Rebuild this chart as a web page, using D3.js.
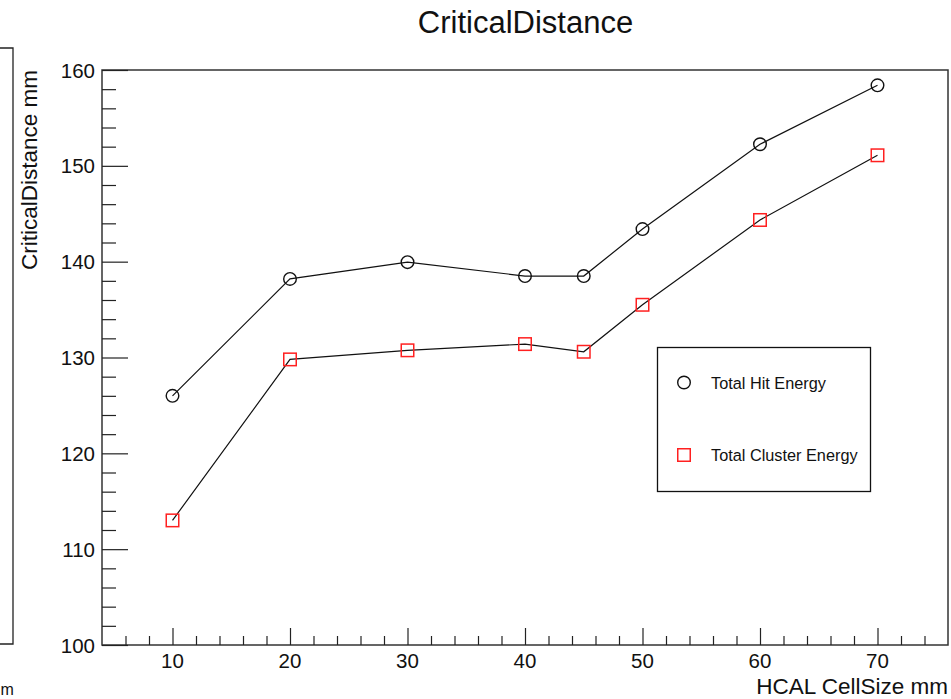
<!DOCTYPE html>
<html>
<head>
<meta charset="utf-8">
<script src="https://cdn.jsdelivr.net/npm/d3@7"></script>
<style>
  html, body { margin: 0; padding: 0; background: #fff; }
  svg { display: block; font-family: "Liberation Sans", Arial, Helvetica, sans-serif; }
</style>
</head>
<body>
<svg id="chart" width="951" height="699"></svg>
<script>
// HCAL cell size (mm) and the critical distance (mm) for each energy definition
const cellSize = [10, 20, 30, 40, 45, 50, 60, 70];
const hitEnergy = [126.0, 138.2, 139.95, 138.5, 138.5, 143.4, 152.25, 158.4];
const clusterEnergy = [113.0, 129.8, 130.75, 131.4, 130.6, 135.5, 144.35, 151.1];

const xMajorTicks = [10, 20, 30, 40, 50, 60, 70];
const yMajorTicks = [100, 110, 120, 130, 140, 150, 160];
const seriesNames = ["Total Hit Energy", "Total Cluster Energy"];

const svg = d3.select("#chart");
const frame = { left: 102, top: 70, right: 948, bottom: 645 };

const x = d3.scaleLinear().domain([4, 76]).range([frame.left, frame.right]);
const y = d3.scaleLinear().domain([100, 160]).range([frame.bottom, frame.top]);

// neighbouring pad edge on the far left
const sidePad = svg.append("g").attr("stroke", "#222").attr("fill", "none").attr("stroke-width", 1.3);
sidePad.append("path").attr("d", "M0,48H13V644H0");
svg.append("text").attr("x", 0.5).attr("y", 695).attr("text-anchor", "start")
  .attr("font-size", 16).attr("fill", "#111").text("m");

// title
svg.append("text").attr("x", 525.5).attr("y", 33).attr("text-anchor", "middle")
  .attr("font-size", 31).attr("fill", "#111").text("CriticalDistance");

// frame
svg.append("rect")
  .attr("x", frame.left).attr("y", frame.top)
  .attr("width", frame.right - frame.left).attr("height", frame.bottom - frame.top)
  .attr("fill", "none").attr("stroke", "#333").attr("stroke-width", 1.5);

// x axis: ticks pointing into the frame
const xAxisMajor = d3.axisTop(x).tickValues(xMajorTicks).tickSize(17).tickFormat("");
const xAxisMinor = d3.axisTop(x).tickValues(d3.range(6, 76, 2).filter(v => v % 10 !== 0)).tickSize(9).tickFormat("");
[xAxisMajor, xAxisMinor].forEach(ax => {
  const g = svg.append("g").attr("transform", `translate(0,${frame.bottom})`).call(ax);
  g.select(".domain").remove();
  g.selectAll("line").attr("stroke", "#222").attr("stroke-width", 1.2);
});
svg.append("g").selectAll("text").data(xMajorTicks).join("text")
  .attr("x", d => x(d)).attr("y", 668).attr("text-anchor", "middle")
  .attr("font-size", 20.5).attr("fill", "#111").text(d => d);

// y axis: ticks pointing into the frame
const yAxisMajor = d3.axisRight(y).tickValues(yMajorTicks).tickSize(26).tickFormat("");
const yAxisMinor = d3.axisRight(y).tickValues(d3.range(102, 160, 2).filter(v => v % 10 !== 0)).tickSize(14).tickFormat("");
[yAxisMajor, yAxisMinor].forEach(ax => {
  const g = svg.append("g").attr("transform", `translate(${frame.left},0)`).call(ax);
  g.select(".domain").remove();
  g.selectAll("line").attr("stroke", "#222").attr("stroke-width", 1.2);
});
svg.append("g").selectAll("text").data(yMajorTicks).join("text")
  .attr("x", 95).attr("y", d => y(d) + 7.5).attr("text-anchor", "end")
  .attr("font-size", 20.5).attr("fill", "#111").text(d => d);

// axis titles
svg.append("text").attr("x", 948).attr("y", 694).attr("text-anchor", "end")
  .attr("font-size", 22.5).attr("fill", "#111").text("HCAL CellSize mm");
svg.append("text").attr("transform", "translate(37,70) rotate(-90)").attr("text-anchor", "end")
  .attr("font-size", 22.5).attr("fill", "#111").text("CriticalDistance mm");

// series
const line = d3.line().x(d => x(d[0])).y(d => y(d[1]));
const hitPts = cellSize.map((c, i) => [c, hitEnergy[i]]);
const clusterPts = cellSize.map((c, i) => [c, clusterEnergy[i]]);

svg.append("path").datum(hitPts).attr("d", line)
  .attr("fill", "none").attr("stroke", "#111").attr("stroke-width", 1.2);
svg.append("path").datum(clusterPts).attr("d", line)
  .attr("fill", "none").attr("stroke", "#111").attr("stroke-width", 1.2);

svg.append("g").selectAll("circle").data(hitPts).join("circle")
  .attr("cx", d => x(d[0])).attr("cy", d => y(d[1])).attr("r", 6.3)
  .attr("fill", "none").attr("stroke", "#111").attr("stroke-width", 1.4);

const sq = 12.5;
svg.append("g").selectAll("rect").data(clusterPts).join("rect")
  .attr("x", d => x(d[0]) - sq / 2).attr("y", d => y(d[1]) - sq / 2)
  .attr("width", sq).attr("height", sq)
  .attr("fill", "none").attr("stroke", "#ff2020").attr("stroke-width", 1.5);

// legend
const legend = svg.append("g");
legend.append("rect").attr("x", 657.5).attr("y", 347.5).attr("width", 213).attr("height", 144)
  .attr("fill", "#fff").attr("stroke", "#111").attr("stroke-width", 1.3);
legend.append("circle").attr("cx", 684).attr("cy", 382.5).attr("r", 6.3)
  .attr("fill", "none").attr("stroke", "#111").attr("stroke-width", 1.4);
legend.append("rect").attr("x", 684 - sq / 2).attr("y", 455 - sq / 2).attr("width", sq).attr("height", sq)
  .attr("fill", "none").attr("stroke", "#ff2020").attr("stroke-width", 1.5);
legend.selectAll("text").data(seriesNames).join("text")
  .attr("x", 711).attr("y", (d, i) => [388.5, 461][i])
  .attr("font-size", 16.3).attr("fill", "#111").text(d => d);
</script>
</body>
</html>
